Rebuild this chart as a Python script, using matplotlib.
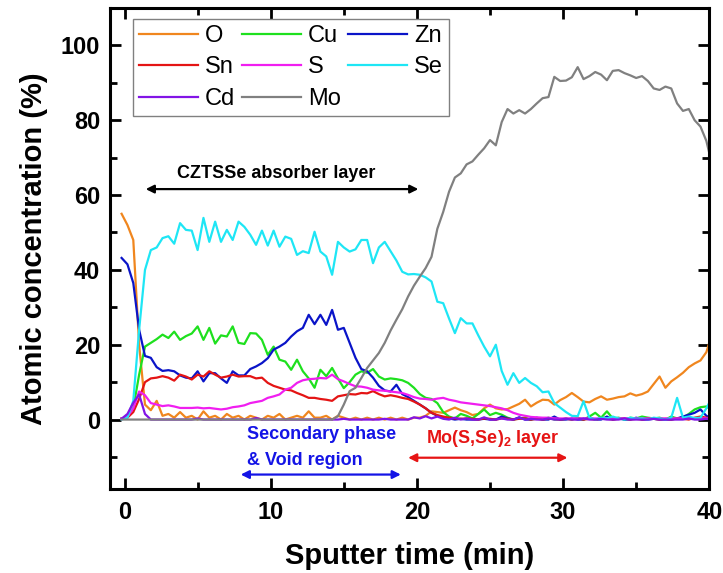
"""
XPS depth profile of a CZTSSe stack: atomic concentration vs sputter time.
"""

import matplotlib
matplotlib.use("Agg")
import matplotlib.pyplot as plt
import numpy as np
from matplotlib.ticker import MultipleLocator

# ── Fonts ──────────────────────────────────────────────────────────────────
plt.rcParams["font.family"] = ["Liberation Sans", "DejaVu Sans"]
plt.rcParams["mathtext.fontset"] = "custom"
plt.rcParams["mathtext.rm"] = "Liberation Sans"
plt.rcParams["mathtext.bf"] = "Liberation Sans:bold"

# ── Data ───────────────────────────────────────────────────────────────────
T_START = -0.2   # min
T_STEP = 0.4     # min between sputter cycles
N_POINTS = 102

O = [55, 52, 48, 20, 4, 2.5, 5, 1, 1.5, 0.5,
     2, 0.5, 1, 0, 2.2, 0.5, 1, 0, 1.5, 0.5,
     1, 0, 1, 0.5, 0, 1, 0.5, 1.5, 0, 0.5,
     1, 0.5, 2.2, 0.5, 0.5, 1, 0, 1, 0.5, 0,
     0.5, 0, 0.5, 0, 0.5, 0, 0.5, 0, 0.5, 0,
     0.5, 0.5, 1, 2.2, 2, 1.8, 2.5, 3.2, 2.5, 2,
     1.2, 1.5, 3, 4, 3, 2.7, 2.8, 3.5, 4.2, 5.3,
     3.5, 4.5, 5.3, 5.2, 4, 5.2, 6, 7.1, 6, 4.8,
     4.6, 5.5, 6.2, 5.3, 5.6, 6, 6.2, 7, 6.4, 6.8,
     7.5, 9.5, 11.5, 8.5, 10.2, 11.3, 12.5, 14, 15, 15.8,
     18, 23]

Cu = [0.3, 0.8, 3, 12, 19.5, 20.5, 21.5, 22.7, 21.8, 23.5,
      21.3, 22.3, 23, 24.9, 21.3, 24.5, 20.3, 22.5, 22.2, 24.9,
      20.5, 20.2, 23.1, 23, 21.3, 17.3, 19.5, 16, 15.5, 13.3,
      16, 12.9, 11, 8.5, 13.3, 11.6, 13.8, 11, 8.4, 10,
      12, 12.9, 12.5, 13.5, 11.5, 10.7, 11, 10.8, 10.5, 9.8,
      8.5, 6.8, 5.8, 5.5, 4.4, 2, 0.8, 0.3, 1.5, 1,
      0.3, 1.5, 2.7, 1.2, 1.8, 1.3, 0.5, 0, 0.3, 0.5,
      0, 0.3, 0, 0.5, 0, 0, 0.3, 0, 0.5, 0,
      0.8, 1.8, 0.5, 2.2, 0.3, 0.5, 0, 0.5, 0.3, 0.8,
      0.5, 0.3, 0.5, 0, 0.8, 0.3, 0.5, 1.5, 2.7, 3.3,
      3.5, 2.5]

Zn = [43.2, 41.5, 36.5, 24, 17, 16.5, 14, 13, 13.2, 12.9,
      11.8, 11.2, 11, 12.9, 10.2, 12.4, 12.4, 11, 9.8, 12.9,
      11.8, 11.8, 13.5, 14.2, 15.1, 16.4, 18.7, 19.5, 20.5, 22.2,
      23.6, 24.5, 28, 25.5, 28, 25.3, 29.3, 24, 24.5, 20.5,
      16.5, 13.5, 12.9, 11.2, 9, 7.8, 7.5, 9.3, 6.8, 6,
      5, 4, 3, 1.8, 1, 0.5, 0.3, 0, 0.2, 0,
      0, 0, 0.2, 0, 0, 0.8, 0.3, 0, 0.6, 0,
      0, 0.5, 0, 0, 0.8, 0, 0, 0.3, 0, 0,
      0.5, 0, 0, 0.8, 0, 0.3, 0, 0, 0.5, 0,
      0, 0.2, 0, 0, 0, 0.3, 0.8, 1.3, 1.8, 2.7,
      1.0, 0.3]

Sn = [0.3, 0.5, 2, 5.5, 10, 11, 11.2, 11.6, 11.2, 10.4,
      12, 11.5, 10.7, 12, 11.5, 12.9, 12, 11.2, 11.5, 12,
      11.5, 11.6, 11.6, 11, 11.2, 9.8, 9, 8.5, 8, 7.8,
      7.1, 6.5, 5.8, 5.8, 5.5, 5.3, 5, 6.2, 6.5, 6.8,
      6.7, 7.1, 7, 7.6, 6.8, 6.2, 6.5, 6.2, 5.8, 5.5,
      4.8, 4, 3, 1.8, 1.2, 0.8, 0.5, 0.3, 0.2, 0.3,
      0.2, 0, 0.3, 0.2, 0, 0.3, 0.2, 0, 0.2, 0.3,
      0, 0.2, 0, 0.3, 0.2, 0, 0.2, 0, 0.3, 0,
      0.2, 0, 0.3, 0.2, 0, 0.2, 0.3, 0, 0.2, 0,
      0.3, 0.2, 0, 0.2, 0, 0.3, 0.2, 0, 0.5, 0.8,
      0.5, 0.3]

S = [0.3, 0.8, 3, 7.5, 6.5, 4.4, 4, 3.6, 3.8, 3.5,
     3.1, 3.1, 3.1, 3.2, 3, 3.1, 2.9, 2.7, 2.9, 3.3,
     3.5, 3.8, 4.4, 4.7, 5, 5.8, 6.2, 6.7, 8, 8.5,
     9.8, 10.5, 10.8, 10.9, 11.1, 11, 12, 10.8, 10.2, 9.5,
     8.9, 8.8, 8.5, 8, 7.8, 7.7, 7.5, 7.3, 7.1, 6.6,
     6, 5.6, 5.5, 5.3, 5.6, 5.8, 5.3, 5, 4.6, 4.4,
     4.2, 4, 3.8, 3.6, 3.3, 3, 2.5, 1.8, 1.3, 1,
     0.7, 0.6, 0.5, 0.5, 0.3, 0.3, 0.3, 0.3, 0.3, 0.3,
     0.3, 0.3, 0.3, 0.3, 0.3, 0.3, 0.3, 0.3, 0.3, 0.3,
     0.3, 0.3, 0.3, 0.3, 0.3, 0.3, 0.3, 0.3, 0.3, 0.3,
     0.3, 0.3]

Se = [0, 0.5, 5, 24, 40, 45.3, 46, 48.5, 49, 47,
      52.5, 50.7, 50.5, 45.3, 53.9, 47.5, 52.9, 47.5, 50.7, 48,
      52.9, 51.5, 49.4, 46.7, 50.5, 46.5, 50.5, 46.2, 48.9, 48.3,
      44, 45, 44.5, 50.2, 44.9, 43.6, 38.7, 47.5, 46, 44.9,
      45.5, 48, 48, 41.8, 46, 47.5, 45, 42.5, 39.5, 38.8,
      38.9, 38.7, 38, 36.9, 31.5, 31.1, 27, 23.1, 27.1, 25.7,
      25.7, 22.5, 19.5, 16.9, 20, 13, 9.3, 12.4, 9.8, 11.1,
      9.8, 8.9, 7.3, 7.5, 4.4, 3.2, 2, 1, 0.9, 4.9,
      0.5, 0, 0.5, 0.3, 0.8, 0.3, 0, 0.5, 0.2, 0.3,
      0, 0.5, 0.3, 0, 0.5, 5.8, 0.5, 0.8, 0.4, 0.5,
      3, 6]

Cd = [0.2, 1.5, 4.5, 6.7, 1.5, 0, 0, 0, 0, 0,
      0, 0, 0, 0.3, 0, 0, 0, 0, 0, 0,
      0, 0, 0, 0.4, 0, 0, 0, 0, 0, 0,
      0, 0, 0, 0, 0, 0, 0, 0, 0.2, 0,
      0, 0, 0, 0, 0, 0.2, 0, 0, 0, 0,
      0.6, 0.3, 0.9, 0.3, 0.8, 0.2, 0, 0.5, 0, 0.3,
      0, 0, 0.6, 0, 0, 0.3, 0, 0, 0.5, 0,
      0.2, 0, 0, 0.3, 0, 0, 0.2, 0, 0, 0.3,
      0, 0, 0.2, 0, 0, 0, 0.3, 0, 0, 0,
      0, 0.2, 0, 0, 0, 0, 0, 0.3, 0, 0,
      0.2, 0]

Mo = [0.0] * 37 + [
      0.9, 4, 7.6, 8.5, 11.1, 13.8, 15.8, 17.8, 20.5, 23.8,
      26.7, 29.5, 32.9, 35.8, 38.2, 40.5, 43.5, 51, 55.5, 60.9,
      64.7, 65.8, 68.2, 69, 70.8, 72.5, 74.7, 73.3, 79.5, 83,
      81.8, 82.7, 81.8, 83, 84.5, 85.9, 86.2, 91.6, 90.5, 90.6,
      91.5, 94.2, 91, 91.8, 92.9, 92.2, 90.7, 93.2, 93.4, 92.6,
      92, 91.3, 91.8, 90.5, 88.5, 88.1, 89, 88.5, 84.5, 82.5,
      83, 80, 78.3, 74.5, 68]

time = T_START + T_STEP * np.arange(N_POINTS)

SERIES = {
    "O":  (O,  "#F0861E"),
    "Cu": (Cu, "#1EE01E"),
    "Zn": (Zn, "#0A14C8"),
    "Sn": (Sn, "#E41414"),
    "S":  (S,  "#F01EF0"),
    "Se": (Se, "#1EE6F5"),
    "Cd": (Cd, "#8214E6"),
    "Mo": (Mo, "#808080"),
}
# legend is filled column by column -> this order gives rows O Cu Zn / Sn S Se / Cd Mo
LEGEND_ORDER = ["O", "Sn", "Cd", "Cu", "S", "Mo", "Zn", "Se"]

# ── Plot ───────────────────────────────────────────────────────────────────
fig = plt.figure(figsize=(7.23, 5.73), dpi=100)
ax = fig.add_axes([0.152, 0.147, 0.829, 0.839])

lines = {}
for name, (vals, color) in SERIES.items():
    (lines[name],) = ax.plot(time, vals, color=color, lw=1.6, label=name)

ax.set_xlim(-1, 40)
ax.set_ylim(-18.5, 110)
ax.xaxis.set_major_locator(MultipleLocator(10))
ax.xaxis.set_minor_locator(MultipleLocator(5))
ax.yaxis.set_major_locator(MultipleLocator(20))
ax.yaxis.set_minor_locator(MultipleLocator(10))
ax.set_yticks([0, 20, 40, 60, 80, 100])

for sp in ax.spines.values():
    sp.set_linewidth(2.2)
ax.tick_params(which="both", direction="in", top=True, right=True, width=2)
ax.tick_params(which="major", length=8, labelsize=17, pad=7)
ax.tick_params(axis="x", which="major", pad=9)
ax.tick_params(which="minor", length=5)
for lab in ax.get_xticklabels() + ax.get_yticklabels():
    lab.set_fontweight("bold")

ax.set_xlabel("Sputter time (min)", fontsize=21, fontweight="bold", labelpad=13)
ax.set_ylabel("Atomic concentration (%)", fontsize=21, fontweight="bold", labelpad=9)

ax.legend(
    handles=[lines[n] for n in LEGEND_ORDER], ncol=3,
    loc="upper left", bbox_to_anchor=(0.038, 0.977),
    fontsize=17, frameon=True, fancybox=False, framealpha=1,
    edgecolor="#808080", handlelength=2.5, handletextpad=0.3,
    columnspacing=0.3, labelspacing=0.4, borderpad=0.25, borderaxespad=0,
)

# ── Layer annotations ──────────────────────────────────────────────────────
ax.text(10.4, 65.9, "CZTSSe absorber layer", ha="center", va="center",
        fontsize=13, fontweight="bold", color="black")
ax.annotate("", xy=(20.1, 61.6), xytext=(1.45, 61.6),
            arrowprops=dict(arrowstyle="<|-|>", color="black", lw=1.6,
                            mutation_scale=12, shrinkA=0, shrinkB=0))

ax.text(8.4, -4.1, "Secondary phase", ha="left", va="center",
        fontsize=13, fontweight="bold", color="#1414E6")
ax.text(8.4, -10.9, "& Void region", ha="left", va="center",
        fontsize=13, fontweight="bold", color="#1414E6")
ax.annotate("", xy=(18.9, -14.7), xytext=(7.95, -14.7),
            arrowprops=dict(arrowstyle="<|-|>", color="#1414E6", lw=1.6,
                            mutation_scale=12, shrinkA=0, shrinkB=0))

ax.text(25.2, -5, r"Mo(S,Se)$_\mathbf{2}$ layer", ha="center", va="center",
        fontsize=13, fontweight="bold", color="#E61414")
ax.annotate("", xy=(30.3, -10.2), xytext=(19.4, -10.2),
            arrowprops=dict(arrowstyle="<|-|>", color="#E61414", lw=1.6,
                            mutation_scale=12, shrinkA=0, shrinkB=0))

fig.savefig("out.png", dpi=100)
